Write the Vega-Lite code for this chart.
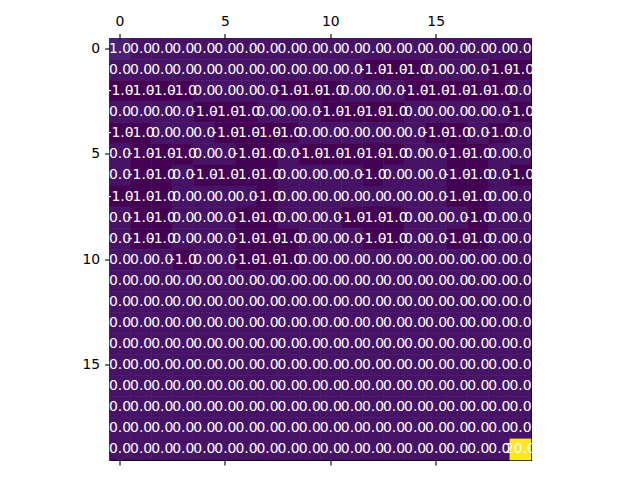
{
  "$schema": "https://vega.github.io/schema/vega-lite/v6.json",
  "width": 421.5,
  "height": 421.5,
  "autosize": {"type": "none"},
  "padding": {"left": 109.5, "top": 38.5, "right": 109, "bottom": 20},
  "background": "white",
  "config": {
    "view": {"stroke": "black", "strokeWidth": 1.1},
    "locale": {"number": {"decimal": ".", "thousands": ",", "grouping": [3], "currency": ["$", ""], "minus": "-"}},
    "axis": {
      "domain": false, "grid": false, "title": null,
      "tickColor": "black", "tickSize": 4.9, "tickWidth": 1.1,
      "labelFont": "DejaVu Sans", "labelFontSize": 13.9, "labelColor": "black",
      "labelPadding": 4.9, "labelAngle": 0
    }
  },
  "data": {"values": [
    {"r":0,"c":0,"v":1},{"r":0,"c":1,"v":0},{"r":0,"c":2,"v":0},{"r":0,"c":3,"v":0},{"r":0,"c":4,"v":0},{"r":0,"c":5,"v":0},{"r":0,"c":6,"v":0},{"r":0,"c":7,"v":0},{"r":0,"c":8,"v":0},{"r":0,"c":9,"v":0},{"r":0,"c":10,"v":0},{"r":0,"c":11,"v":0},{"r":0,"c":12,"v":0},{"r":0,"c":13,"v":0},{"r":0,"c":14,"v":0},{"r":0,"c":15,"v":0},{"r":0,"c":16,"v":0},{"r":0,"c":17,"v":0},{"r":0,"c":18,"v":0},{"r":0,"c":19,"v":0},
    {"r":1,"c":0,"v":0},{"r":1,"c":1,"v":0},{"r":1,"c":2,"v":0},{"r":1,"c":3,"v":0},{"r":1,"c":4,"v":0},{"r":1,"c":5,"v":0},{"r":1,"c":6,"v":0},{"r":1,"c":7,"v":0},{"r":1,"c":8,"v":0},{"r":1,"c":9,"v":0},{"r":1,"c":10,"v":0},{"r":1,"c":11,"v":0},{"r":1,"c":12,"v":-1},{"r":1,"c":13,"v":-1},{"r":1,"c":14,"v":-1},{"r":1,"c":15,"v":0},{"r":1,"c":16,"v":0},{"r":1,"c":17,"v":0},{"r":1,"c":18,"v":-1},{"r":1,"c":19,"v":-1},
    {"r":2,"c":0,"v":-1},{"r":2,"c":1,"v":-1},{"r":2,"c":2,"v":-1},{"r":2,"c":3,"v":-1},{"r":2,"c":4,"v":0},{"r":2,"c":5,"v":0},{"r":2,"c":6,"v":0},{"r":2,"c":7,"v":0},{"r":2,"c":8,"v":-1},{"r":2,"c":9,"v":-1},{"r":2,"c":10,"v":-1},{"r":2,"c":11,"v":0},{"r":2,"c":12,"v":0},{"r":2,"c":13,"v":0},{"r":2,"c":14,"v":-1},{"r":2,"c":15,"v":-1},{"r":2,"c":16,"v":-1},{"r":2,"c":17,"v":-1},{"r":2,"c":18,"v":-1},{"r":2,"c":19,"v":0},
    {"r":3,"c":0,"v":0},{"r":3,"c":1,"v":0},{"r":3,"c":2,"v":0},{"r":3,"c":3,"v":0},{"r":3,"c":4,"v":-1},{"r":3,"c":5,"v":-1},{"r":3,"c":6,"v":-1},{"r":3,"c":7,"v":0},{"r":3,"c":8,"v":0},{"r":3,"c":9,"v":0},{"r":3,"c":10,"v":-1},{"r":3,"c":11,"v":-1},{"r":3,"c":12,"v":-1},{"r":3,"c":13,"v":-1},{"r":3,"c":14,"v":0},{"r":3,"c":15,"v":0},{"r":3,"c":16,"v":0},{"r":3,"c":17,"v":0},{"r":3,"c":18,"v":0},{"r":3,"c":19,"v":-1},
    {"r":4,"c":0,"v":-1},{"r":4,"c":1,"v":-1},{"r":4,"c":2,"v":0},{"r":4,"c":3,"v":0},{"r":4,"c":4,"v":0},{"r":4,"c":5,"v":-1},{"r":4,"c":6,"v":-1},{"r":4,"c":7,"v":-1},{"r":4,"c":8,"v":-1},{"r":4,"c":9,"v":0},{"r":4,"c":10,"v":0},{"r":4,"c":11,"v":0},{"r":4,"c":12,"v":0},{"r":4,"c":13,"v":0},{"r":4,"c":14,"v":0},{"r":4,"c":15,"v":-1},{"r":4,"c":16,"v":-1},{"r":4,"c":17,"v":0},{"r":4,"c":18,"v":-1},{"r":4,"c":19,"v":0},
    {"r":5,"c":0,"v":0},{"r":5,"c":1,"v":-1},{"r":5,"c":2,"v":-1},{"r":5,"c":3,"v":-1},{"r":5,"c":4,"v":0},{"r":5,"c":5,"v":0},{"r":5,"c":6,"v":-1},{"r":5,"c":7,"v":-1},{"r":5,"c":8,"v":0},{"r":5,"c":9,"v":-1},{"r":5,"c":10,"v":-1},{"r":5,"c":11,"v":-1},{"r":5,"c":12,"v":-1},{"r":5,"c":13,"v":-1},{"r":5,"c":14,"v":0},{"r":5,"c":15,"v":0},{"r":5,"c":16,"v":-1},{"r":5,"c":17,"v":-1},{"r":5,"c":18,"v":0},{"r":5,"c":19,"v":0},
    {"r":6,"c":0,"v":0},{"r":6,"c":1,"v":-1},{"r":6,"c":2,"v":-1},{"r":6,"c":3,"v":0},{"r":6,"c":4,"v":-1},{"r":6,"c":5,"v":-1},{"r":6,"c":6,"v":-1},{"r":6,"c":7,"v":-1},{"r":6,"c":8,"v":0},{"r":6,"c":9,"v":0},{"r":6,"c":10,"v":0},{"r":6,"c":11,"v":0},{"r":6,"c":12,"v":-1},{"r":6,"c":13,"v":0},{"r":6,"c":14,"v":0},{"r":6,"c":15,"v":0},{"r":6,"c":16,"v":-1},{"r":6,"c":17,"v":-1},{"r":6,"c":18,"v":0},{"r":6,"c":19,"v":-1},
    {"r":7,"c":0,"v":-1},{"r":7,"c":1,"v":-1},{"r":7,"c":2,"v":-1},{"r":7,"c":3,"v":0},{"r":7,"c":4,"v":0},{"r":7,"c":5,"v":0},{"r":7,"c":6,"v":0},{"r":7,"c":7,"v":-1},{"r":7,"c":8,"v":0},{"r":7,"c":9,"v":0},{"r":7,"c":10,"v":0},{"r":7,"c":11,"v":0},{"r":7,"c":12,"v":0},{"r":7,"c":13,"v":0},{"r":7,"c":14,"v":0},{"r":7,"c":15,"v":0},{"r":7,"c":16,"v":-1},{"r":7,"c":17,"v":-1},{"r":7,"c":18,"v":0},{"r":7,"c":19,"v":0},
    {"r":8,"c":0,"v":0},{"r":8,"c":1,"v":-1},{"r":8,"c":2,"v":-1},{"r":8,"c":3,"v":0},{"r":8,"c":4,"v":0},{"r":8,"c":5,"v":0},{"r":8,"c":6,"v":-1},{"r":8,"c":7,"v":-1},{"r":8,"c":8,"v":0},{"r":8,"c":9,"v":0},{"r":8,"c":10,"v":0},{"r":8,"c":11,"v":-1},{"r":8,"c":12,"v":-1},{"r":8,"c":13,"v":-1},{"r":8,"c":14,"v":0},{"r":8,"c":15,"v":0},{"r":8,"c":16,"v":0},{"r":8,"c":17,"v":-1},{"r":8,"c":18,"v":0},{"r":8,"c":19,"v":0},
    {"r":9,"c":0,"v":0},{"r":9,"c":1,"v":-1},{"r":9,"c":2,"v":-1},{"r":9,"c":3,"v":0},{"r":9,"c":4,"v":0},{"r":9,"c":5,"v":0},{"r":9,"c":6,"v":-1},{"r":9,"c":7,"v":-1},{"r":9,"c":8,"v":-1},{"r":9,"c":9,"v":0},{"r":9,"c":10,"v":0},{"r":9,"c":11,"v":0},{"r":9,"c":12,"v":-1},{"r":9,"c":13,"v":-1},{"r":9,"c":14,"v":0},{"r":9,"c":15,"v":0},{"r":9,"c":16,"v":-1},{"r":9,"c":17,"v":-1},{"r":9,"c":18,"v":0},{"r":9,"c":19,"v":0},
    {"r":10,"c":0,"v":0},{"r":10,"c":1,"v":0},{"r":10,"c":2,"v":0},{"r":10,"c":3,"v":-1},{"r":10,"c":4,"v":0},{"r":10,"c":5,"v":0},{"r":10,"c":6,"v":-1},{"r":10,"c":7,"v":-1},{"r":10,"c":8,"v":-1},{"r":10,"c":9,"v":0},{"r":10,"c":10,"v":0},{"r":10,"c":11,"v":0},{"r":10,"c":12,"v":0},{"r":10,"c":13,"v":0},{"r":10,"c":14,"v":0},{"r":10,"c":15,"v":0},{"r":10,"c":16,"v":0},{"r":10,"c":17,"v":0},{"r":10,"c":18,"v":0},{"r":10,"c":19,"v":0},
    {"r":11,"c":0,"v":0},{"r":11,"c":1,"v":0},{"r":11,"c":2,"v":0},{"r":11,"c":3,"v":0},{"r":11,"c":4,"v":0},{"r":11,"c":5,"v":0},{"r":11,"c":6,"v":0},{"r":11,"c":7,"v":0},{"r":11,"c":8,"v":0},{"r":11,"c":9,"v":0},{"r":11,"c":10,"v":0},{"r":11,"c":11,"v":0},{"r":11,"c":12,"v":0},{"r":11,"c":13,"v":0},{"r":11,"c":14,"v":0},{"r":11,"c":15,"v":0},{"r":11,"c":16,"v":0},{"r":11,"c":17,"v":0},{"r":11,"c":18,"v":0},{"r":11,"c":19,"v":0},
    {"r":12,"c":0,"v":0},{"r":12,"c":1,"v":0},{"r":12,"c":2,"v":0},{"r":12,"c":3,"v":0},{"r":12,"c":4,"v":0},{"r":12,"c":5,"v":0},{"r":12,"c":6,"v":0},{"r":12,"c":7,"v":0},{"r":12,"c":8,"v":0},{"r":12,"c":9,"v":0},{"r":12,"c":10,"v":0},{"r":12,"c":11,"v":0},{"r":12,"c":12,"v":0},{"r":12,"c":13,"v":0},{"r":12,"c":14,"v":0},{"r":12,"c":15,"v":0},{"r":12,"c":16,"v":0},{"r":12,"c":17,"v":0},{"r":12,"c":18,"v":0},{"r":12,"c":19,"v":0},
    {"r":13,"c":0,"v":0},{"r":13,"c":1,"v":0},{"r":13,"c":2,"v":0},{"r":13,"c":3,"v":0},{"r":13,"c":4,"v":0},{"r":13,"c":5,"v":0},{"r":13,"c":6,"v":0},{"r":13,"c":7,"v":0},{"r":13,"c":8,"v":0},{"r":13,"c":9,"v":0},{"r":13,"c":10,"v":0},{"r":13,"c":11,"v":0},{"r":13,"c":12,"v":0},{"r":13,"c":13,"v":0},{"r":13,"c":14,"v":0},{"r":13,"c":15,"v":0},{"r":13,"c":16,"v":0},{"r":13,"c":17,"v":0},{"r":13,"c":18,"v":0},{"r":13,"c":19,"v":0},
    {"r":14,"c":0,"v":0},{"r":14,"c":1,"v":0},{"r":14,"c":2,"v":0},{"r":14,"c":3,"v":0},{"r":14,"c":4,"v":0},{"r":14,"c":5,"v":0},{"r":14,"c":6,"v":0},{"r":14,"c":7,"v":0},{"r":14,"c":8,"v":0},{"r":14,"c":9,"v":0},{"r":14,"c":10,"v":0},{"r":14,"c":11,"v":0},{"r":14,"c":12,"v":0},{"r":14,"c":13,"v":0},{"r":14,"c":14,"v":0},{"r":14,"c":15,"v":0},{"r":14,"c":16,"v":0},{"r":14,"c":17,"v":0},{"r":14,"c":18,"v":0},{"r":14,"c":19,"v":0},
    {"r":15,"c":0,"v":0},{"r":15,"c":1,"v":0},{"r":15,"c":2,"v":0},{"r":15,"c":3,"v":0},{"r":15,"c":4,"v":0},{"r":15,"c":5,"v":0},{"r":15,"c":6,"v":0},{"r":15,"c":7,"v":0},{"r":15,"c":8,"v":0},{"r":15,"c":9,"v":0},{"r":15,"c":10,"v":0},{"r":15,"c":11,"v":0},{"r":15,"c":12,"v":0},{"r":15,"c":13,"v":0},{"r":15,"c":14,"v":0},{"r":15,"c":15,"v":0},{"r":15,"c":16,"v":0},{"r":15,"c":17,"v":0},{"r":15,"c":18,"v":0},{"r":15,"c":19,"v":0},
    {"r":16,"c":0,"v":0},{"r":16,"c":1,"v":0},{"r":16,"c":2,"v":0},{"r":16,"c":3,"v":0},{"r":16,"c":4,"v":0},{"r":16,"c":5,"v":0},{"r":16,"c":6,"v":0},{"r":16,"c":7,"v":0},{"r":16,"c":8,"v":0},{"r":16,"c":9,"v":0},{"r":16,"c":10,"v":0},{"r":16,"c":11,"v":0},{"r":16,"c":12,"v":0},{"r":16,"c":13,"v":0},{"r":16,"c":14,"v":0},{"r":16,"c":15,"v":0},{"r":16,"c":16,"v":0},{"r":16,"c":17,"v":0},{"r":16,"c":18,"v":0},{"r":16,"c":19,"v":0},
    {"r":17,"c":0,"v":0},{"r":17,"c":1,"v":0},{"r":17,"c":2,"v":0},{"r":17,"c":3,"v":0},{"r":17,"c":4,"v":0},{"r":17,"c":5,"v":0},{"r":17,"c":6,"v":0},{"r":17,"c":7,"v":0},{"r":17,"c":8,"v":0},{"r":17,"c":9,"v":0},{"r":17,"c":10,"v":0},{"r":17,"c":11,"v":0},{"r":17,"c":12,"v":0},{"r":17,"c":13,"v":0},{"r":17,"c":14,"v":0},{"r":17,"c":15,"v":0},{"r":17,"c":16,"v":0},{"r":17,"c":17,"v":0},{"r":17,"c":18,"v":0},{"r":17,"c":19,"v":0},
    {"r":18,"c":0,"v":0},{"r":18,"c":1,"v":0},{"r":18,"c":2,"v":0},{"r":18,"c":3,"v":0},{"r":18,"c":4,"v":0},{"r":18,"c":5,"v":0},{"r":18,"c":6,"v":0},{"r":18,"c":7,"v":0},{"r":18,"c":8,"v":0},{"r":18,"c":9,"v":0},{"r":18,"c":10,"v":0},{"r":18,"c":11,"v":0},{"r":18,"c":12,"v":0},{"r":18,"c":13,"v":0},{"r":18,"c":14,"v":0},{"r":18,"c":15,"v":0},{"r":18,"c":16,"v":0},{"r":18,"c":17,"v":0},{"r":18,"c":18,"v":0},{"r":18,"c":19,"v":0},
    {"r":19,"c":0,"v":0},{"r":19,"c":1,"v":0},{"r":19,"c":2,"v":0},{"r":19,"c":3,"v":0},{"r":19,"c":4,"v":0},{"r":19,"c":5,"v":0},{"r":19,"c":6,"v":0},{"r":19,"c":7,"v":0},{"r":19,"c":8,"v":0},{"r":19,"c":9,"v":0},{"r":19,"c":10,"v":0},{"r":19,"c":11,"v":0},{"r":19,"c":12,"v":0},{"r":19,"c":13,"v":0},{"r":19,"c":14,"v":0},{"r":19,"c":15,"v":0},{"r":19,"c":16,"v":0},{"r":19,"c":17,"v":0},{"r":19,"c":18,"v":0},{"r":19,"c":19,"v":20}
  ]},
  "layer": [
    {
      "mark": {"type": "rect", "strokeWidth": 0.6},
      "encoding": {
        "x": {"field": "c", "type": "ordinal", "scale": {"paddingInner": 0, "paddingOuter": 0}, "axis": {"orient": "top", "values": [0, 5, 10, 15]}},
        "y": {"field": "r", "type": "ordinal", "scale": {"paddingInner": 0, "paddingOuter": 0}, "axis": {"orient": "left", "values": [0, 5, 10, 15]}},
        "color": {"field": "v", "type": "quantitative", "scale": {"scheme": "viridis", "domain": [-1, 20]}, "legend": null},
        "stroke": {"field": "v", "type": "quantitative", "scale": {"scheme": "viridis", "domain": [-1, 20]}, "legend": null}
      }
    },
    {
      "mark": {"type": "text", "color": "white", "font": "DejaVu Sans", "fontSize": 13.9, "align": "center", "baseline": "middle"},
      "encoding": {
        "x": {"field": "c", "type": "ordinal", "axis": {"orient": "bottom", "labels": false, "values": [0, 5, 10, 15]}},
        "y": {"field": "r", "type": "ordinal", "axis": {"orient": "left", "values": [0, 5, 10, 15]}},
        "text": {"field": "v", "type": "quantitative", "format": ".1f"}
      }
    }
  ],
  "resolve": {"axis": {"x": "independent"}}
}
